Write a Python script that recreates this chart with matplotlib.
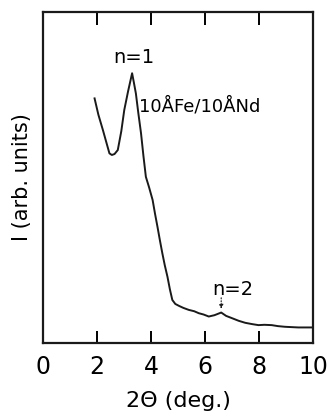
import matplotlib
matplotlib.use("Agg")
import matplotlib.pyplot as plt

two_theta = [1.91, 2.05, 2.22, 2.35, 2.46, 2.55, 2.65, 2.77, 2.90, 3.01, 3.15, 3.30, 3.37, 3.44, 3.53, 3.63, 3.72, 3.81, 3.93, 4.06, 4.15, 4.24, 4.33, 4.42, 4.51, 4.61, 4.70, 4.79, 4.90, 5.04, 5.20, 5.40, 5.60, 5.77, 5.95, 6.14, 6.35, 6.60, 6.78, 7.00, 7.25, 7.49, 7.75, 7.98, 8.20, 8.47, 8.70, 8.96, 9.20, 9.45, 9.70, 9.97]
intensity = [7.39, 6.90, 6.43, 6.05, 5.73, 5.68, 5.71, 5.83, 6.40, 7.04, 7.60, 8.15, 7.85, 7.54, 6.95, 6.34, 5.65, 5.02, 4.70, 4.32, 3.90, 3.51, 3.10, 2.71, 2.35, 2.00, 1.62, 1.30, 1.18, 1.12, 1.06, 1.00, 0.96, 0.90, 0.86, 0.80, 0.84, 0.92, 0.82, 0.75, 0.67, 0.61, 0.57, 0.54, 0.55, 0.54, 0.51, 0.49, 0.48, 0.47, 0.47, 0.47]
xticks = [0, 2, 4, 6, 8, 10]

plt.rcParams['font.family'] = ['DejaVu Sans']

fig = plt.figure(figsize=(3.28, 4.13), dpi=100)
ax = fig.add_axes([43/328, 1-343/413, 270/328, 331/413])
ax.plot(two_theta, intensity, color='#1a1a1a', lw=1.4)
ax.set_xlim(0, 10)
ax.set_ylim(0, 10)
ax.set_xticks(xticks)
ax.set_xticklabels([str(t) for t in xticks], fontsize=17)
ax.set_yticks([])
ax.tick_params(axis='x', direction='in', length=9, width=1.4, top=True, pad=9)
for s in ax.spines.values():
    s.set_linewidth(1.6)
    s.set_color('#1a1a1a')
ax.set_xlabel('2Θ (deg.)', fontsize=16, labelpad=8)
ax.set_ylabel('I (arb. units)', fontsize=15, labelpad=8)

ax.text(3.35, 8.46, 'n=1', fontsize=14, ha='center', va='baseline')
ax.text(3.57, 6.98, '10ÅFe/10ÅNd', fontsize=13, ha='left', va='baseline')
ax.text(7.04, 1.45, 'n=2', fontsize=14, ha='center', va='baseline')
ax.annotate('', xy=(6.6, 0.95), xytext=(6.6, 1.45),
            arrowprops=dict(arrowstyle='-|>', linestyle=':', lw=0.8, color='#1a1a1a', mutation_scale=6))

fig.savefig('out.png', dpi=100)
